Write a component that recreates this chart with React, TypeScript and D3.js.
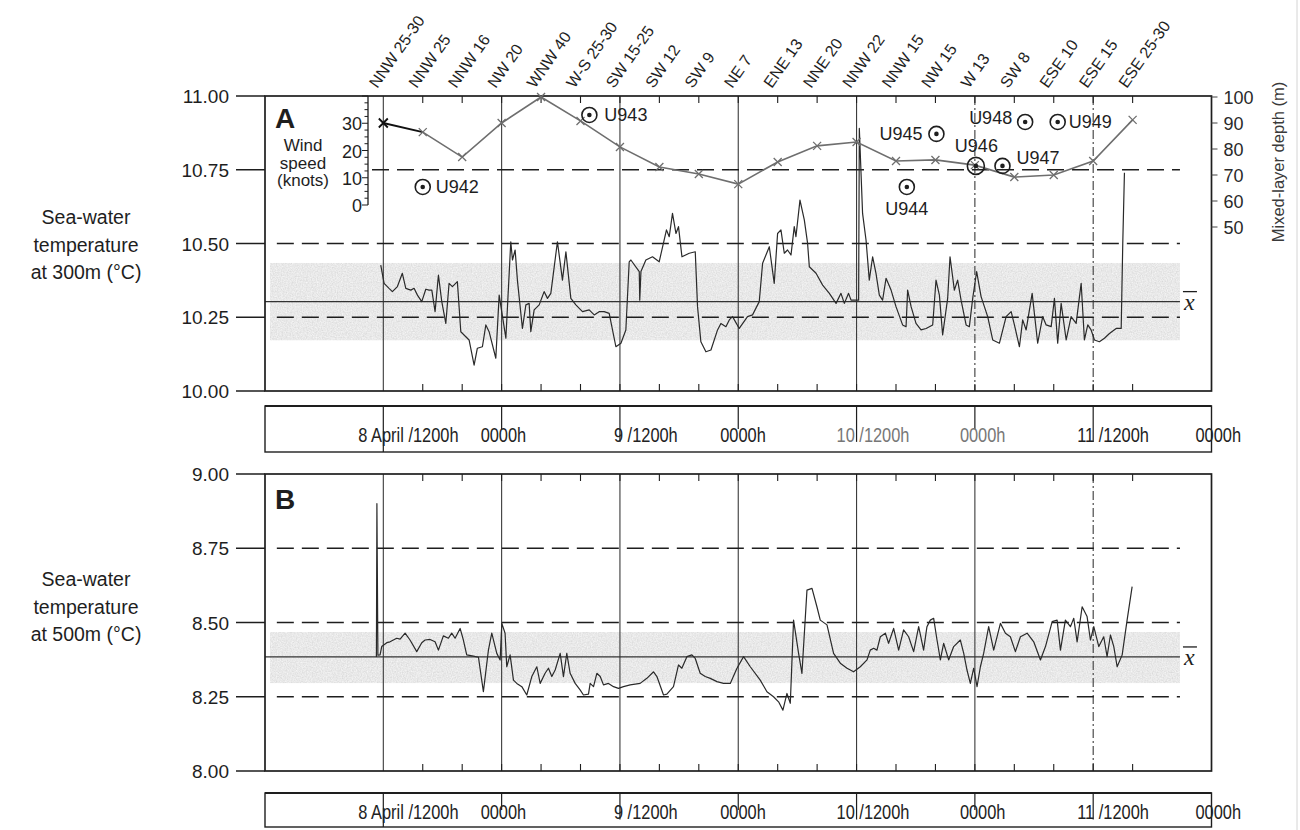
import React from "react";
import * as d3 from "d3";

// Sea-water temperature at 300 m, [hours after 8 April 0000h, °C]
const temp300: [number, number][] = [
  [11.74, 10.427], [12.08, 10.365], [12.58, 10.348], [12.92, 10.337], [13.43, 10.354], [13.93, 10.399],
  [14.28, 10.348], [14.79, 10.342], [15.12, 10.348], [15.46, 10.325], [15.9, 10.303], [16.31, 10.345],
  [16.64, 10.342], [16.92, 10.342], [17.25, 10.269], [17.59, 10.393], [17.93, 10.303], [18.34, 10.229],
  [18.67, 10.365], [19.01, 10.354], [19.51, 10.371], [19.86, 10.201], [20.37, 10.184], [20.7, 10.173],
  [21.21, 10.088], [21.54, 10.145], [22.05, 10.15], [22.4, 10.224], [22.73, 10.201], [23.41, 10.111],
  [23.75, 10.325], [24.43, 10.179], [24.93, 10.506], [25.1, 10.444], [25.37, 10.478], [25.6, 10.376],
  [26.11, 10.212], [26.46, 10.292], [26.79, 10.297], [26.96, 10.201], [27.3, 10.275], [27.81, 10.292],
  [28.31, 10.337], [28.65, 10.314], [28.99, 10.331], [29.66, 10.506], [30.17, 10.376], [30.52, 10.472],
  [31.02, 10.314], [31.53, 10.292], [32.2, 10.269], [32.88, 10.275], [33.39, 10.258], [33.89, 10.269],
  [34.4, 10.269], [34.91, 10.263], [35.59, 10.15], [36.1, 10.162], [36.6, 10.207], [36.94, 10.438],
  [37.11, 10.444], [37.96, 10.405], [38.01, 10.308], [38.13, 10.405], [38.63, 10.444], [39.3, 10.455],
  [39.98, 10.438], [40.72, 10.546], [41.0, 10.523], [41.33, 10.602], [41.68, 10.534], [41.94, 10.557],
  [42.29, 10.455], [43.03, 10.467], [43.64, 10.472], [43.87, 10.286], [44.21, 10.167], [44.72, 10.133],
  [45.23, 10.139], [45.9, 10.207], [46.24, 10.229], [46.75, 10.218], [47.09, 10.241], [47.42, 10.252],
  [48.1, 10.212], [48.94, 10.252], [49.45, 10.258], [50.13, 10.303], [50.47, 10.433], [51.15, 10.489],
  [51.65, 10.365], [51.99, 10.534], [52.33, 10.546], [52.67, 10.467], [53.0, 10.478], [53.35, 10.461],
  [53.68, 10.557], [53.85, 10.523], [54.26, 10.647], [54.7, 10.58], [55.03, 10.501], [55.21, 10.421],
  [55.89, 10.399], [56.56, 10.359], [57.24, 10.331], [57.92, 10.297], [58.42, 10.331], [58.76, 10.297],
  [59.19, 10.331], [59.44, 10.308], [59.77, 10.308], [60.21, 10.308], [60.28, 10.89], [60.61, 10.602],
  [60.96, 10.512], [61.29, 10.376], [61.63, 10.455], [61.97, 10.399], [62.31, 10.325], [62.64, 10.308],
  [62.99, 10.382], [63.5, 10.342], [64.0, 10.286], [64.67, 10.224], [65.02, 10.218], [65.18, 10.342],
  [65.53, 10.286], [66.03, 10.229], [66.54, 10.207], [67.05, 10.212], [67.72, 10.224], [68.06, 10.376],
  [68.4, 10.325], [68.73, 10.19], [69.24, 10.314], [69.48, 10.455], [69.92, 10.342], [70.25, 10.376],
  [70.6, 10.308], [71.11, 10.224], [71.44, 10.218], [71.78, 10.314], [72.18, 10.405], [72.63, 10.32],
  [73.3, 10.252], [73.81, 10.173], [74.49, 10.162], [75.17, 10.252], [75.68, 10.269], [76.01, 10.224],
  [76.52, 10.15], [76.85, 10.241], [77.2, 10.207], [77.81, 10.331], [78.37, 10.162], [78.88, 10.252],
  [79.23, 10.224], [79.74, 10.218], [80.07, 10.314], [80.4, 10.162], [80.75, 10.297], [81.26, 10.173],
  [81.76, 10.252], [82.27, 10.229], [82.78, 10.365], [83.11, 10.173], [83.45, 10.224], [83.79, 10.207],
  [84.13, 10.173], [84.63, 10.167], [85.14, 10.179], [85.65, 10.195], [86.33, 10.212], [86.84, 10.212],
  [87.0, 10.5], [87.17, 10.74],
];

// Sea-water temperature at 500 m, [hours after 8 April 0000h, °C]
const temp500: [number, number][] = [
  [11.3, 8.384], [11.35, 8.9], [11.45, 8.39], [11.67, 8.391], [11.84, 8.419], [12.35, 8.432], [12.68, 8.435],
  [13.02, 8.441], [13.36, 8.447], [13.7, 8.444], [14.21, 8.464], [14.71, 8.441], [15.39, 8.402],
  [15.9, 8.432], [16.24, 8.441], [16.74, 8.443], [17.25, 8.435], [17.59, 8.407], [18.09, 8.455],
  [18.6, 8.447], [18.94, 8.464], [19.28, 8.447], [19.79, 8.48], [20.12, 8.441], [20.46, 8.391],
  [21.14, 8.387], [21.65, 8.383], [22.15, 8.267], [22.66, 8.407], [23.0, 8.464], [23.51, 8.396],
  [23.85, 8.374], [24.02, 8.497], [24.35, 8.464], [24.52, 8.351], [24.86, 8.391], [25.2, 8.306],
  [25.54, 8.295], [26.05, 8.284], [26.55, 8.256], [27.06, 8.318], [27.57, 8.351], [27.91, 8.295],
  [28.41, 8.329], [28.75, 8.346], [29.09, 8.318], [29.43, 8.34], [29.94, 8.396], [30.27, 8.318],
  [30.61, 8.396], [30.95, 8.329], [31.46, 8.295], [31.96, 8.273], [32.3, 8.256], [32.81, 8.259],
  [32.98, 8.295], [33.32, 8.284], [33.66, 8.329], [34.0, 8.318], [34.33, 8.29], [34.84, 8.295],
  [35.35, 8.284], [35.85, 8.278], [36.36, 8.284], [37.04, 8.29], [38.05, 8.295], [38.73, 8.312],
  [39.41, 8.334], [39.75, 8.318], [40.42, 8.256], [40.76, 8.259], [41.43, 8.284], [41.94, 8.357],
  [42.28, 8.346], [42.79, 8.385], [43.3, 8.391], [43.64, 8.379], [44.14, 8.329], [44.65, 8.318],
  [45.16, 8.312], [45.84, 8.301], [46.51, 8.295], [47.19, 8.295], [47.87, 8.346], [48.54, 8.385],
  [49.22, 8.351], [50.23, 8.306], [50.91, 8.267], [51.58, 8.25], [52.09, 8.233], [52.53, 8.205],
  [52.94, 8.261], [53.28, 8.228], [53.61, 8.508], [54.12, 8.396], [54.46, 8.329], [54.97, 8.609],
  [55.48, 8.615], [55.98, 8.553], [56.32, 8.508], [57.0, 8.492], [57.67, 8.396], [58.35, 8.363],
  [59.03, 8.346], [59.7, 8.334], [60.38, 8.351], [61.06, 8.374], [61.39, 8.407], [61.73, 8.413],
  [62.07, 8.407], [62.41, 8.452], [62.92, 8.464], [63.25, 8.43], [63.76, 8.48], [64.27, 8.407],
  [64.77, 8.475], [65.28, 8.452], [65.79, 8.402], [66.3, 8.486], [66.8, 8.407], [67.14, 8.486],
  [67.48, 8.508], [67.82, 8.514], [68.16, 8.441], [68.5, 8.374], [68.83, 8.43], [69.34, 8.374],
  [69.85, 8.419], [70.53, 8.441], [70.87, 8.396], [71.2, 8.34], [71.54, 8.295], [71.88, 8.346],
  [72.22, 8.284], [72.56, 8.351], [72.89, 8.396], [73.4, 8.486], [73.91, 8.407], [74.59, 8.497],
  [75.1, 8.464], [75.6, 8.452], [76.11, 8.402], [76.62, 8.452], [77.3, 8.464], [77.97, 8.435],
  [78.65, 8.374], [79.16, 8.419], [79.84, 8.503], [80.34, 8.508], [80.68, 8.407], [81.18, 8.508],
  [81.69, 8.486], [82.03, 8.514], [82.37, 8.435], [82.88, 8.553], [83.38, 8.52], [83.72, 8.441],
  [84.06, 8.486], [84.57, 8.419], [85.07, 8.452], [85.41, 8.385], [85.75, 8.458], [86.09, 8.419],
  [86.43, 8.351], [86.94, 8.391], [87.44, 8.508], [87.95, 8.621],
];

// Four-hourly wind reports and mixed-layer depth (m)
const obsHours = [12, 16, 20, 24, 28, 32, 36, 40, 44, 48, 52, 56, 60, 64, 68, 72, 76, 80, 84, 88];
const windReports = [
  "NNW 25-30", "NNW 25", "NNW 16", "NW 20", "WNW 40", "W-S 25-30", "SW 15-25", "SW 12", "SW 9", "NE 7",
  "ENE 13", "NNE 20", "NNW 22", "NNW 15", "NW 15", "W 13", "SW 8", "ESE 10", "ESE 15", "ESE 25-30",
];
const mixedLayerDepth = [90, 86.5, 76.9, 90, 100, 90.8, 80.8, 73.1, 70.4, 66.5, 75, 81.2, 82.7, 75.4, 75.8, 73.8, 69.2, 70, 75.4, 91.2];

// U-boat positions: hour and mixed-layer depth level where each is plotted
const uboatIds = ["U942", "U943", "U944", "U945", "U946", "U947", "U948", "U949"];
const uboatHours = [16.0, 32.9, 65.1, 68.1, 72.1, 74.8, 77.1, 80.4];
const uboatDepths = [65.4, 93.1, 65.4, 85.8, 73.5, 73.5, 90.4, 90.4];

// Statistics and reference levels
const mean300 = 10.303;
const band300: [number, number] = [10.172, 10.434];
const ref300 = [10.75, 10.5, 10.25];
const ticks300 = [10.0, 10.25, 10.5, 10.75, 11.0];
const mean500 = 8.384;
const band500: [number, number] = [8.296, 8.468];
const ref500 = [8.75, 8.5, 8.25];
const ticks500 = [8.0, 8.25, 8.5, 8.75, 9.0];
const depthTicks = [50, 60, 70, 80, 90, 100];
const windTicks = [0, 10, 20, 30];

// Time axis (hours after 8 April 0000h)
const gridHours = [12, 24, 36, 48, 60, 72, 84];
const stripHours = [12, 24, 36, 48, 60, 72, 84, 96];
const stripLabels = ["8 April /1200h", "0000h", "9 /1200h", "0000h", "10 /1200h", "0000h", "11 /1200h", "0000h"];

const SANS = "'Liberation Sans', Arial, Helvetica, sans-serif";
const INK = "#1e1e1e";

export default function App() {
  const x = d3.scaleLinear().domain([0, 96]).range([265, 1211.5]);
  const yA = d3.scaleLinear().domain([10, 11]).range([391, 96]);
  const yB = d3.scaleLinear().domain([8, 9]).range([771, 474]);
  const yDepth = d3.scaleLinear().domain([50, 100]).range([227, 97]);
  const yWind = d3.scaleLinear().domain([0, 40]).range([205, 96]);

  const lineEnd = x(92.8);
  const refStart = x(1.2);
  const windAxisX = 368;
  const minorHours = d3.range(16, 92, 4);

  const panel = (
    y: d3.ScaleLinear<number, number>,
    series: [number, number][],
    mean: number,
    band: [number, number],
    refs: number[],
    ticks: number[],
    dashedGrid: number[],
    letter: string,
    title: string[],
    titleY: number,
    refStarts: (v: number) => number
  ) => {
    const [lo, hi] = y.domain();
    const top = y(hi);
    const bottom = y(lo);
    const line = d3
      .line<[number, number]>()
      .x((d) => x(d[0]))
      .y((d) => y(d[1]));
    return (
      <g>
        {/* shaded spread about the mean */}
        <rect
          x={x(0) + 5}
          y={y(band[1])}
          width={lineEnd - x(0) - 5}
          height={y(band[0]) - y(band[1])}
          fill="#d6d6d6"
          filter="url(#grain)"
        />
        {/* vertical 12-hour grid */}
        {gridHours.map((h) => (
          <line
            key={"g" + h}
            x1={x(h)}
            x2={x(h)}
            y1={top}
            y2={bottom}
            stroke="#3a3a3a"
            strokeWidth={1.1}
            strokeDasharray={dashedGrid.includes(h) ? "9,3,2,3" : undefined}
          />
        ))}
        {/* minor 4-hour ticks */}
        {minorHours.map((h) => (
          <g key={"m" + h}>
            <line x1={x(h)} x2={x(h)} y1={top} y2={top + 7} stroke={INK} strokeWidth={1.1} />
            <line x1={x(h)} x2={x(h)} y1={bottom} y2={bottom - 7} stroke={INK} strokeWidth={1.1} />
          </g>
        ))}
        {/* reference levels */}
        {refs.map((v) => (
          <line
            key={"r" + v}
            x1={refStarts(v)}
            x2={lineEnd}
            y1={y(v)}
            y2={y(v)}
            stroke={INK}
            strokeWidth={1.5}
            strokeDasharray="17,8"
          />
        ))}
        {/* mean */}
        <line x1={x(0)} x2={lineEnd} y1={y(mean)} y2={y(mean)} stroke="#333" strokeWidth={1.2} />
        <text
          x={lineEnd + 4}
          y={y(mean) + 8}
          fontFamily="'Liberation Serif', 'Times New Roman', serif"
          fontStyle="italic"
          fontSize={24}
          fill={INK}
        >
          x
        </text>
        <line x1={lineEnd + 3} x2={lineEnd + 17} y1={y(mean) - 10} y2={y(mean) - 10} stroke={INK} strokeWidth={1.3} />
        {/* temperature trace */}
        <path d={line(series) ?? ""} fill="none" stroke="#2a2a2a" strokeWidth={1.2} strokeLinejoin="round" />
        {/* frame and left axis */}
        <rect x={x(0)} y={top} width={x(96) - x(0)} height={bottom - top} fill="none" stroke={INK} strokeWidth={1.7} />
        {ticks.map((v) => (
          <g key={"t" + v}>
            <line x1={236} x2={x(0)} y1={y(v)} y2={y(v)} stroke={INK} strokeWidth={1.5} />
            <text x={229} y={y(v) + 7} textAnchor="end" fontFamily={SANS} fontSize={19} fill={INK}>
              {v.toFixed(2)}
            </text>
          </g>
        ))}
        <text x={x(0) + 10} y={top + (letter === "A" ? 32 : 35)} fontFamily={SANS} fontWeight="bold" fontSize={28} fill={INK}>
          {letter}
        </text>
        {title.map((t, i) => (
          <text key={t} x={86} y={titleY + i * 27.5} textAnchor="middle" fontFamily={SANS} fontSize={19.5} fill={INK}>
            {t}
          </text>
        ))}
      </g>
    );
  };

  const strip = (top: number, bottom: number, baseline: number, faded: number[]) => {
    const offsets = [-25, -21, -6, -18, -20, -15, -16, -16];
    const h = bottom - top;
    const squeeze = 0.8;
    return (
      <g>
        <rect x={x(0)} y={top} width={x(96) - x(0)} height={h} fill="none" stroke={INK} strokeWidth={1.4} />
        <line x1={x(0)} x2={x(96)} y1={top} y2={top} stroke={INK} strokeWidth={2} />
        {stripHours.slice(0, 7).map((hr, i) => {
          const len = i === 0 ? h : hr % 24 === 12 ? h * 0.78 : h * 0.5;
          return <line key={hr} x1={x(hr)} x2={x(hr)} y1={top} y2={top + len} stroke={INK} strokeWidth={1.2} />;
        })}
        {stripLabels.map((s, i) => (
          <text
            key={i}
            transform={`translate(${x(stripHours[i]) + offsets[i]},${baseline}) scale(${squeeze},1)`}
            fontFamily={SANS}
            fontSize={20.5}
            fill={faded.includes(i) ? "#777" : "#222"}
          >
            {s}
          </text>
        ))}
      </g>
    );
  };

  const depthLine = d3
    .line<number>()
    .x((_, i) => x(obsHours[i]))
    .y((d) => yDepth(d));
  const depthLineFrom2 = d3
    .line<number>()
    .x((_, i) => x(obsHours[i + 1]))
    .y((d) => yDepth(d));

  const labelPlacement: Record<string, { dx: number; dy: number; anchor: string }> = {
    U942: { dx: 13, dy: 6.5, anchor: "start" },
    U943: { dx: 15, dy: 6, anchor: "start" },
    U944: { dx: 0, dy: 28, anchor: "middle" },
    U945: { dx: -14, dy: 6, anchor: "end" },
    U946: { dx: -21, dy: -14, anchor: "start" },
    U947: { dx: 14, dy: -2, anchor: "start" },
    U948: { dx: -13, dy: 2, anchor: "end" },
    U949: { dx: 11, dy: 6, anchor: "start" },
  };

  const cross = (cx: number, cy: number, s: number, color: string, w: number) => (
    <path d={`M${cx - s},${cy - s}L${cx + s},${cy + s}M${cx - s},${cy + s}L${cx + s},${cy - s}`} stroke={color} strokeWidth={w} />
  );

  return (
    <svg
      width={1300}
      height={830}
      viewBox="0 0 1300 830"
      style={{ position: "absolute", left: 0, top: 0, background: "#fff" }}
    >
      <defs>
        <filter id="grain" x="0" y="0" width="100%" height="100%">
          <feTurbulence type="fractalNoise" baseFrequency="0.8" numOctaves={2} seed={3} result="n" />
          <feColorMatrix
            in="n"
            type="matrix"
            values="0.3 0 0 0 0.66  0.3 0 0 0 0.66  0.3 0 0 0 0.66  0 0 0 0 1"
            result="g"
          />
          <feComposite in="g" in2="SourceGraphic" operator="in" />
        </filter>
      </defs>
      <rect width={1300} height={830} fill="#fff" />

      {panel(yA, temp300, mean300, band300, ref300, ticks300, [72, 84], "A", ["Sea-water", "temperature", "at 300m (°C)"], 224,
        (v) => (v === 10.75 ? windAxisX + 4 : refStart))}
      {panel(yB, temp500, mean500, band500, ref500, ticks500, [84], "B", ["Sea-water", "temperature", "at 500m (°C)"], 586,
        () => refStart)}

      {/* wind-speed scale */}
      <g>
        <line x1={windAxisX} x2={windAxisX} y1={yWind(0)} y2={yWind(40)} stroke={INK} strokeWidth={1.3} />
        {d3.range(0, 40.1, 2.5).map((v) => (
          <line
            key={v}
            x1={windAxisX}
            x2={windAxisX - (v % 10 === 0 ? 6 : 3.5)}
            y1={yWind(v)}
            y2={yWind(v)}
            stroke={INK}
            strokeWidth={1}
          />
        ))}
        {windTicks.map((v) => (
          <text key={v} x={windAxisX - 6} y={yWind(v) + 7} textAnchor="end" fontFamily={SANS} fontSize={18} fill={INK}>
            {v}
          </text>
        ))}
        {["Wind", "speed", "(knots)"].map((t, i) => (
          <text key={t} x={303} y={151 + i * 17.5} textAnchor="middle" fontFamily={SANS} fontSize={17} fill={INK}>
            {t}
          </text>
        ))}
      </g>

      {/* mixed-layer depth scale */}
      <g>
        {depthTicks.map((v) => (
          <g key={v}>
            <line x1={x(96)} x2={x(96) + 6} y1={yDepth(v)} y2={yDepth(v)} stroke="#444" strokeWidth={1} />
            <text x={x(96) + 12} y={yDepth(v) + 6.5} fontFamily={SANS} fontSize={18} fill="#2a2a2a">
              {v}
            </text>
          </g>
        ))}
        <text
          transform="translate(1284,162) rotate(-90)"
          textAnchor="middle"
          fontFamily={SANS}
          fontSize={16.5}
          fill="#3a3a3a"
        >
          Mixed-layer depth (m)
        </text>
      </g>

      {/* mixed-layer depth trace */}
      <path d={depthLineFrom2(mixedLayerDepth.slice(1)) ?? ""} fill="none" stroke="#6e6e6e" strokeWidth={1.6} />
      <path d={depthLine(mixedLayerDepth.slice(0, 2)) ?? ""} fill="none" stroke="#111" strokeWidth={1.8} />
      {mixedLayerDepth.map((d, i) => (
        <g key={i}>{cross(x(obsHours[i]), yDepth(d), i === 0 ? 4.5 : 4, i === 0 ? "#111" : "#6e6e6e", i === 0 ? 1.8 : 1.3)}</g>
      ))}

      {/* wind reports */}
      {windReports.map((w, i) => (
        <text
          key={i}
          transform={`translate(${x(obsHours[i]) - 6},89) rotate(-55)`}
          fontFamily={SANS}
          fontSize={16}
          fill={INK}
        >
          {w}
        </text>
      ))}

      {/* U-boat markers */}
      {uboatIds.map((id, i) => {
        const cx = x(uboatHours[i]);
        const cy = yDepth(uboatDepths[i]);
        const p = labelPlacement[id];
        return (
          <g key={id}>
            <circle cx={cx} cy={cy} r={id === "U946" ? 8.5 : 7.5} fill="none" stroke={INK} strokeWidth={1.6} />
            <circle cx={cx} cy={cy} r={2.3} fill={INK} />
            <text x={cx + p.dx} y={cy + p.dy} textAnchor={p.anchor as any} fontFamily={SANS} fontSize={18} fill={INK}>
              {id}
            </text>
          </g>
        );
      })}

      {strip(406, 452, 442, [4, 5])}
      {strip(793, 827, 819, [])}

      <line x1={1297} x2={1297} y1={0} y2={830} stroke="#d4d4d4" strokeWidth={1} />
    </svg>
  );
}
